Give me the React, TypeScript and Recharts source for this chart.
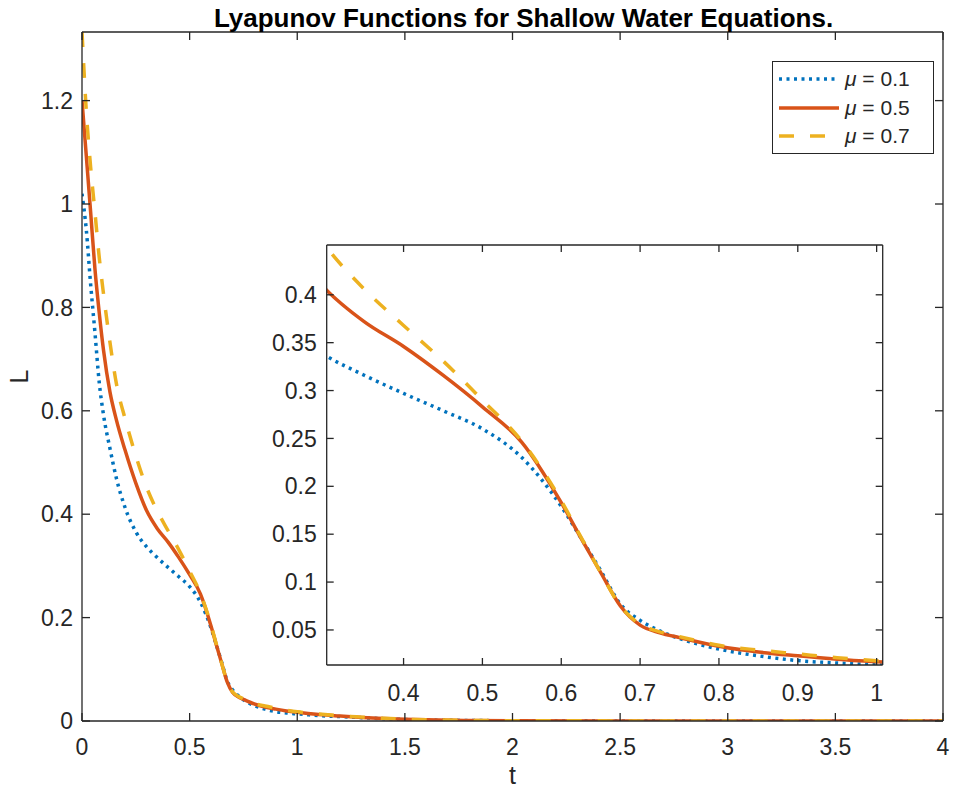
import React from 'react';
import { LineChart, Line, XAxis, YAxis, Legend } from 'recharts';

// ---------- data ----------
const tValues = [0, 0.02, 0.04, 0.06, 0.08, 0.1, 0.13, 0.16, 0.2, 0.25, 0.3, 0.35, 0.4, 0.45, 0.5, 0.55, 0.6, 0.625, 0.65, 0.675, 0.7, 0.725, 0.75, 0.8, 0.85, 0.9, 0.95, 1.0, 1.05, 1.1, 1.2, 1.3, 1.4, 1.5, 1.6, 1.8, 2.0, 2.5, 3, 3.5, 4];
const mu01 = [1.02, 0.95, 0.845, 0.752, 0.655, 0.592, 0.527, 0.469, 0.413, 0.366, 0.337, 0.316, 0.297, 0.279, 0.26, 0.23, 0.179, 0.146, 0.112, 0.077, 0.06, 0.049, 0.041, 0.03, 0.023, 0.018, 0.0155, 0.0137, 0.012, 0.0105, 0.0085, 0.0065, 0.0045, 0.003, 0.002, 0.001, 0.0005, 0.0002, 0.0001, 0, 0];
const mu05 = [1.2, 1.093, 0.985, 0.875, 0.79, 0.717, 0.636, 0.582, 0.524, 0.46, 0.407, 0.372, 0.346, 0.316, 0.283, 0.246, 0.183, 0.146, 0.11, 0.075, 0.055, 0.047, 0.042, 0.033, 0.027, 0.023, 0.0195, 0.0168, 0.0145, 0.0125, 0.0095, 0.007, 0.005, 0.0033, 0.0022, 0.0011, 0.0006, 0.0002, 0.0001, 0, 0];
const mu07 = [1.333, 1.18, 1.072, 0.985, 0.897, 0.826, 0.732, 0.652, 0.585, 0.513, 0.452, 0.406, 0.368, 0.331, 0.29, 0.247, 0.185, 0.147, 0.11, 0.075, 0.056, 0.048, 0.043, 0.034, 0.029, 0.025, 0.021, 0.0178, 0.0155, 0.0135, 0.01, 0.0075, 0.0052, 0.0035, 0.0023, 0.0012, 0.0006, 0.0002, 0.0001, 0, 0];

const seriesLabels = ['0.1', '0.5', '0.7'];
const mainXTicks = [0, 0.5, 1, 1.5, 2, 2.5, 3, 3.5, 4];
const mainYTicks = [0, 0.2, 0.4, 0.6, 0.8, 1, 1.2];
const insetXTicks = [0.4, 0.5, 0.6, 0.7, 0.8, 0.9, 1];
const insetYTicks = [0.05, 0.1, 0.15, 0.2, 0.25, 0.3, 0.35, 0.4];
const titleText = 'Lyapunov Functions for Shallow Water Equations.';
const xLabelText = 't';
const yLabelText = 'L';

const data = tValues.map((t, i) => ({ t, a: mu01[i], b: mu05[i], c: mu07[i] }));

// ---------- styles ----------
const FONT = "'Liberation Sans', Arial, Helvetica, sans-serif";
const AX = '#262626';
const BLUE = '#0072BD';
const ORANGE = '#D95319';
const YELLOW = '#EDB120';

const seriesStyle = [
  { key: 'a', color: BLUE, dash: '3 4.5', width: 3.5 },
  { key: 'b', color: ORANGE, dash: undefined as string | undefined, width: 3.5 },
  { key: 'c', color: YELLOW, dash: '15 16', width: 3.5 },
];

const axisLineStyle = { stroke: AX, strokeWidth: 1.3 };
const fmt = (v: number) => String(v);

// tick: inward tick mark + optional label
const AxisTick = (props: any) => {
  const { x, y, payload, side, gap, len, showText } = props;
  const lineProps = { stroke: AX, strokeWidth: 1.3 };
  const textProps = { fill: AX, fontSize: 23, fontFamily: FONT };
  if (side === 'bottom') {
    const ay = y - gap;
    return (
      <g>
        <line x1={x} y1={ay} x2={x} y2={ay - len} {...lineProps} />
        {showText && (
          <text x={x} y={y} dy="0.71em" textAnchor="middle" {...textProps}>
            {fmt(payload.value)}
          </text>
        )}
      </g>
    );
  }
  if (side === 'left') {
    const ax = x + gap;
    return (
      <g>
        <line x1={ax} y1={y} x2={ax + len} y2={y} {...lineProps} />
        {showText && (
          <text x={x} y={y} dy="0.355em" textAnchor="end" {...textProps}>
            {fmt(payload.value)}
          </text>
        )}
      </g>
    );
  }
  if (side === 'top') {
    const ay = y + gap;
    return <line x1={x} y1={ay} x2={x} y2={ay + len} {...lineProps} />;
  }
  const ax = x - gap;
  return <line x1={ax} y1={y} x2={ax - len} y2={y} {...lineProps} />;
};

const LegendBox = () => (
  <div
    style={{
      width: 162,
      height: 93,
      border: `1.3px solid ${AX}`,
      background: '#fff',
      boxSizing: 'border-box',
      paddingTop: 3,
      fontFamily: FONT,
      fontSize: 21,
      color: AX,
    }}
  >
    {seriesStyle.map((s, i) => (
      <div key={s.key} style={{ display: 'flex', alignItems: 'center', height: 28.5, paddingLeft: 6 }}>
        <svg width={60} height={10} style={{ display: 'block' }}>
          <line x1={0} y1={5} x2={60} y2={5} stroke={s.color} strokeWidth={s.width} strokeDasharray={s.dash} />
        </svg>
        <span style={{ marginLeft: 6, whiteSpace: 'nowrap' }}>
          <i>μ</i> = {seriesLabels[i]}
        </span>
      </div>
    ))}
  </div>
);

const TitleLabel = (props: any) => {
  const vb = props.viewBox || { x: 82, y: 31, width: 861, height: 1 };
  return (
    <text x={vb.x + vb.width / 2 + 11} y={27} textAnchor="middle" fontSize={26} fontWeight="bold" fontFamily={FONT} fill="#000">
      {titleText}
    </text>
  );
};

const XLabel = (props: any) => {
  const vb = props.viewBox || { x: 82, y: 721, width: 861, height: 40 };
  return (
    <text x={vb.x + vb.width / 2} y={784} textAnchor="middle" fontSize={25} fontFamily={FONT} fill={AX}>
      {xLabelText}
    </text>
  );
};

const YLabel = (props: any) => {
  const vb = props.viewBox || { x: 22, y: 32, width: 60, height: 689 };
  const x = 28;
  const y = vb.y + vb.height / 2;
  return (
    <text x={x} y={y} transform={`rotate(-90 ${x} ${y})`} textAnchor="middle" fontSize={25} fontFamily={FONT} fill={AX}>
      {yLabelText}
    </text>
  );
};

const renderLines = () =>
  seriesStyle.map((s) => (
    <Line
      key={s.key}
      xAxisId="b"
      yAxisId="l"
      dataKey={s.key}
      type="monotone"
      stroke={s.color}
      strokeWidth={s.width}
      strokeDasharray={s.dash}
      dot={false}
      activeDot={false}
      isAnimationActive={false}
    />
  ));

const renderAxes = (xDomain: number[], yDomain: number[], xTicks: number[], yTicks: number[], len: number, bottomGap: number, leftGap: number, xLabel?: any, yLabel?: any, topLabel?: any) => [
  <XAxis
    key="xb"
    xAxisId="b"
    dataKey="t"
    type="number"
    domain={xDomain}
    ticks={xTicks}
    interval={0}
    allowDataOverflow
    height={40}
    tickSize={0}
    tickMargin={bottomGap}
    tick={<AxisTick side="bottom" gap={bottomGap} len={len} showText />}
    axisLine={axisLineStyle}
    tickLine={false}
    label={xLabel}
  />,
  <XAxis
    key="xt"
    xAxisId="t"
    orientation="top"
    dataKey="t"
    type="number"
    domain={xDomain}
    ticks={xTicks}
    interval={0}
    allowDataOverflow
    height={1}
    tickSize={0}
    tickMargin={0}
    tick={<AxisTick side="top" gap={0} len={len} />}
    axisLine={axisLineStyle}
    tickLine={false}
    label={topLabel}
  />,
  <YAxis
    key="yl"
    yAxisId="l"
    type="number"
    domain={yDomain}
    ticks={yTicks}
    interval={0}
    allowDataOverflow
    width={60}
    tickSize={0}
    tickMargin={leftGap}
    tick={<AxisTick side="left" gap={leftGap} len={len} showText />}
    axisLine={axisLineStyle}
    tickLine={false}
    label={yLabel}
  />,
  <YAxis
    key="yr"
    yAxisId="r"
    orientation="right"
    type="number"
    domain={yDomain}
    ticks={yTicks}
    interval={0}
    allowDataOverflow
    width={1}
    tickSize={0}
    tickMargin={0}
    tick={<AxisTick side="right" gap={0} len={len} />}
    axisLine={axisLineStyle}
    tickLine={false}
  />,
];

export default function App() {
  return (
    <div style={{ position: 'absolute', left: 0, top: 0, width: 955, height: 796, background: '#fff' }}>
      <LineChart width={955} height={796} data={data} margin={{ top: 31, right: 11, bottom: 35, left: 22 }}>
        {renderAxes([0, 4], [0, 1.3327], mainXTicks, mainYTicks, 8, 18, 9, <XLabel />, <YLabel />, <TitleLabel />)}
        {renderLines()}
        <Legend
          layout="vertical"
          align="center"
          verticalAlign="middle"
          content={<LegendBox />}
          wrapperStyle={{ position: 'absolute', left: 772, top: 61, width: 162, height: 93, margin: 0, padding: 0 }}
        />
      </LineChart>

      <div style={{ position: 'absolute', left: 256, top: 230, width: 640, height: 480 }}>
        <LineChart width={640} height={480} data={data} margin={{ top: 14, right: 12.3, bottom: 5, left: 10.7 }}>
          {renderAxes([0.3025, 1.0077], [0.0134, 0.452], insetXTicks, insetYTicks, 7, 20, 10)}
          {renderLines()}
        </LineChart>
      </div>
    </div>
  );
}
